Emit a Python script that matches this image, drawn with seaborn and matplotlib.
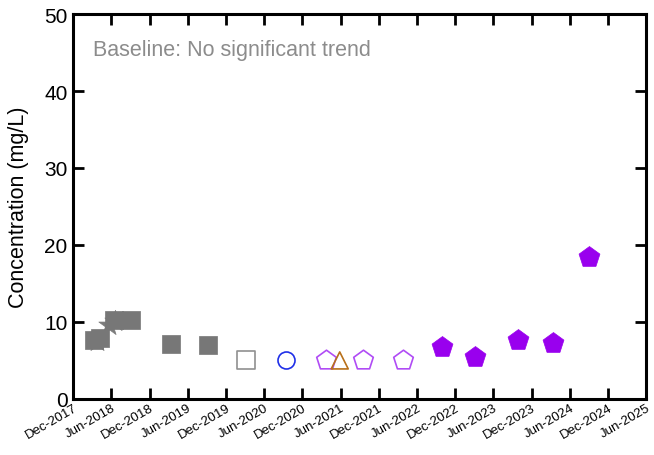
import matplotlib
matplotlib.use("Agg")
import matplotlib.pyplot as plt
import matplotlib.dates as mdates
import pandas as pd
import seaborn as sns

# ── data ──────────────────────────────────────────────────────────
star_dates = ["2018-03-25", "2018-05-20", "2018-06-20"]
star_vals = [7.5, 9.6, 10.1]

sq_dates = ["2018-03-10", "2018-04-10", "2018-06-15", "2018-09-05",
            "2019-03-15", "2019-09-05"]
sq_vals = [7.6, 7.9, 10.3, 10.3, 7.1, 7.0]

open_sq_dates = ["2020-03-05"]
open_sq_vals = [5.0]

circle_dates = ["2020-09-15"]
circle_vals = [5.0]

open_pent_dates = ["2021-03-25", "2021-09-15", "2022-03-25"]
open_pent_vals = [5.0, 5.0, 5.0]

tri_dates = ["2021-05-28"]
tri_vals = [5.0]

pent_dates = ["2022-10-01", "2023-03-05", "2023-09-28", "2024-03-15", "2024-09-01"]
pent_vals = [6.7, 5.5, 7.7, 7.2, 18.5]

tick_dates = pd.date_range("2017-12-01", "2025-06-01", freq="6MS")

plt.rcParams["font.family"] = ["Liberation Sans", "DejaVu Sans"]

fig = plt.figure(figsize=(6.54, 4.56), dpi=100)
ax = fig.add_axes([0.112, 0.123, 0.876, 0.844])


def draw(dates, vals, marker, size, face, edge, lw=1.0, z=3):
    df = pd.DataFrame({"date": pd.to_datetime(dates), "value": vals})
    sns.scatterplot(data=df, x="date", y="value", marker=marker, s=size,
                    color=face, edgecolor=edge, linewidth=lw, ax=ax, zorder=z)


draw(star_dates, star_vals, "*", 260, "#7c7c7c", "#7c7c7c", 0.5, 2)
draw(sq_dates, sq_vals, "s", 160, "#777777", "#777777", 0.5)
draw(open_sq_dates, open_sq_vals, "s", 150, "white", "#909090", 1.2)
draw(circle_dates, circle_vals, "o", 150, "white", "#2030e8", 1.2)
draw(open_pent_dates, open_pent_vals, "p", 220, "white", "#b04cf5", 1.2)
draw(tri_dates, tri_vals, "^", 150, "none", "#b8701a", 1.2, 4)
draw(pent_dates, pent_vals, "p", 250, "#9900ee", "#9900ee", 0.5)

ax.set_xlim(pd.Timestamp("2017-12-01"), pd.Timestamp("2025-06-01"))
ax.set_ylim(0, 50)
ax.set_xticks(tick_dates)
ax.xaxis.set_major_formatter(mdates.DateFormatter("%b-%Y"))
ax.set_yticks([0, 10, 20, 30, 40, 50])

for sp in ax.spines.values():
    sp.set_linewidth(2.2)
ax.tick_params(axis="both", direction="in", length=8, width=2,
               top=True, right=True)
ax.tick_params(axis="y", labelsize=15, pad=4)
ax.tick_params(axis="x", labelsize=9.5, pad=2)
plt.setp(ax.get_xticklabels(), rotation=30, ha="right", rotation_mode="anchor")

ax.set_xlabel("")
ax.set_ylabel("Concentration (mg/L)", fontsize=15.5)
ax.yaxis.set_label_coords(-0.078, 0.5)

ax.text(0.035, 0.909, "Baseline: No significant trend", transform=ax.transAxes,
        fontsize=15.5, color="#8c8c8c", va="center", ha="left")

fig.savefig("out.png", dpi=100)
